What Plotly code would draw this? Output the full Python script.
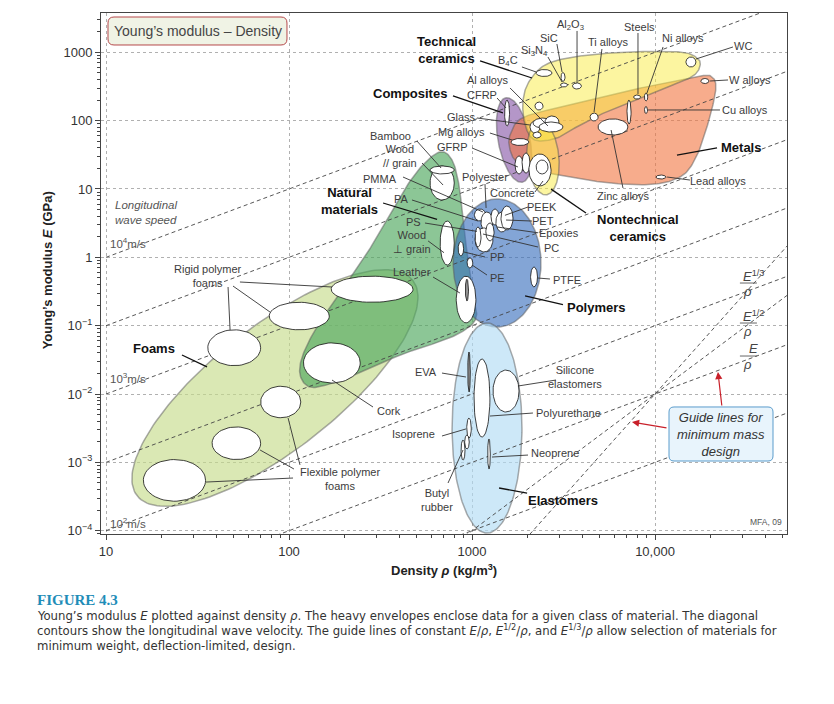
import numpy as np
import plotly.graph_objects as go

# ---------------- figure / axis extent ----------------
# (the page adds an 8 px body margin, so the figure is drawn 8 px smaller)
FIG_W, FIG_H = 826, 696
MARGIN = dict(l=93, r=47, t=5, b=170)
X_LOG_RANGE = [0.9727, 4.7213]     # log10 density (kg/m3)
Y_LOG_RANGE = [-4.048, 3.575]      # log10 modulus (GPa)

x_ticks = [10, 100, 1000, 10000]
x_tick_labels = ["10", "100", "1000", "10,000"]
y_ticks = [1e-4, 1e-3, 1e-2, 1e-1, 1, 10, 100, 1000]
y_tick_labels = ["10<sup>−4</sup>", "10<sup>−3</sup>", "10<sup>−2</sup>", "10<sup>−1</sup>",
                 "1", "10", "100", "1000"]

# ---------------- contour / guide data ----------------
wave_ratio = [1e-7, 1e-6, 1e-5, 1e-4, 1e-3, 1e-2, 1e-1]   # E/rho, GPa/(kg/m3)
guide_rho0 = 1e4
guide_E0 = 1e-2
guide_exponents = [2, 3]      # E^(1/2)/rho, E^(1/3)/rho  (E/rho = wave line 1e-6)

# ---------------- material bubbles (ranges) ----------------
bubble_names = [
    "Flexible foam A", "Flexible foam B", "Flexible foam C",
    "Rigid foam A", "Rigid foam B", "Rigid foam C", "Cork",
    "Wood // grain", "Bamboo", "Wood ⊥ grain", "Leather", "Leather (dense)",
    "PP", "PE", "PTFE", "PA", "PMMA", "Polyester", "PET", "PEEK", "PS", "PC", "Epoxies",
    "EVA", "Polyurethane", "Silicone elastomers", "Isoprene", "Butyl rubber A", "Butyl rubber B", "Neoprene",
    "CFRP", "Glass", "Glass B", "Al alloys A", "Al alloys B", "Al alloys", "Mg alloys",
    "GFRP A", "GFRP B", "Concrete", "Stone",
    "B4C", "SiC", "Si3N4", "Al2O3", "Other ceramic",
    "Ti alloys", "Steels", "Ni alloys", "Zinc alloys", "Cast irons", "WC", "W alloys",
    "Lead alloys", "Cu alloys",
]
bubble_rho_lo = [16, 38, 70, 36, 78, 170, 120,
                 590, 590, 670, 820, 920,
                 840, 940, 2090, 1030, 1120, 1270, 1350, 1440, 1040, 1040, 1190,
                 948, 1026, 1303, 936, 912, 871, 1218,
                 1507, 2075, 2155, 2155, 2506, 2323, 1633,
                 1718, 1877, 2046, 2241,
                 2241, 3064, 3045, 3541, 2208,
                 4416, 7640, 8750, 4887, 7030, 14760, 17810,
                 10120, 8760]
bubble_rho_hi = [35, 70, 116, 70, 166, 476, 245,
                 800, 800, 800, 1050, 957,
                 900, 1010, 2280, 1190, 1300, 1405, 1575, 1675, 1300, 1120, 1320,
                 979, 1253, 1807, 991, 966, 916, 1259,
                 1604, 2353, 2385, 2775, 2986, 3141, 2046,
                 1901, 2075, 2704, 2603,
                 2735, 3223, 3325, 3962, 2444,
                 4887, 8340, 9130, 7110, 7400, 16740, 19720,
                 11480, 9100]
bubble_E_lo = [2.7e-4, 1.1e-3, 4.5e-3, 0.026, 0.087, 0.22, 0.0145,
               6.9, 16.6, 0.77, 0.11, 0.23,
               1.05, 0.70, 0.37, 3.4, 2.35, 2.97, 2.35, 2.51, 1.20, 1.42, 1.74,
               0.0107, 2.35e-3, 5.46e-3, 2.27e-3, 1.57e-3, 1.08e-3, 8.0e-4,
               83.6, 65.9, 55.7, 78, 78, 68.2, 43.3,
               16.6, 17.1, 11.1, 16.6,
               443, 374, 311, 290, 143,
               98.8, 207, 194, 61.7, 89.3, 610, 349,
               14.0, 127]
bubble_E_hi = [1.1e-3, 3.3e-3, 0.013, 0.087, 0.22, 0.53, 0.056,
               21.7, 21.7, 3.4, 0.53, 0.48,
               1.7, 0.98, 0.72, 5.1, 4.6, 5.09, 4.6, 5.63, 2.69, 2.78, 3.18,
               0.0412, 0.0325, 0.0224, 4.45e-3, 2.51e-3, 2.12e-3, 2.2e-3,
               200, 98.8, 68.2, 109, 117, 95.5, 54.8,
               30.4, 33.6, 32.5, 26.5,
               560, 506, 356, 356, 187,
               129, 237, 253, 106, 200, 853, 414,
               16.0, 161]
gray_bubbles = {"EVA", "Leather (dense)"}

# ---------------- class envelopes ----------------
# ellipses: centre density, centre modulus, semi-axes (display decades), tilt (deg)
ellipse_envelopes = {
    "Foams": (83.8, 0.01225, 0.956, 0.339, 38),
    "Polymers": (1371, 0.826, 0.350, 0.240, 90),
    "Elastomers": (1208, 3.18e-3, 0.574, 0.191, 90),
    "Composites": (1698, 52.1, 0.235, 0.087, 101),
    "Nontechnical ceramics": (2443, 28.4, 0.202, 0.087, 95),
}
natural_rho = [668, 778, 849, 893, 951, 1012, 1052, 859, 589, 404, 244, 167, 130, 115, 119, 144, 195, 270, 394, 520]
natural_E = [34.8, 26.5, 11.4, 3.52, 0.914, 0.281, 0.129, 0.0782, 0.0521, 0.0372, 0.0203, 0.0140,
             0.01265, 0.0190, 0.0372, 0.102, 0.333, 1.20, 6.90, 20.3]
metals_rho = [1614, 1877, 3026, 5000, 9400, 17620, 20480, 21510, 20730, 19000, 16980, 14230,
              10000, 5680, 3435, 2355, 1782, 1614]
metals_E = [61.7, 109, 158, 222, 321, 450, 435, 321, 170, 73, 31.4, 16.0, 11.8, 12.2, 15.0, 17.7, 24.0, 37.2]
techcer_rho = [1901, 2075, 2570, 3890, 7290, 13710, 16980, 17620, 16140, 12080, 8280, 5680, 3890, 2910, 2208, 1950]
techcer_E = [200, 393, 675, 883, 1010, 1010, 826, 631, 450, 321, 214, 143, 86.3, 55.7, 52.1, 86.3]

env_fill = {
    "Foams": "rgba(198,220,140,0.65)",
    "Natural materials": "rgba(78,167,93,0.65)",
    "Polymers": "rgba(55,109,189,0.62)",
    "Elastomers": "rgba(178,220,244,0.65)",
    "Composites": "rgba(140,93,170,0.65)",
    "Metals": "rgba(241,117,63,0.6)",
    "Technical ceramics": "rgba(249,235,65,0.5)",
    "Nontechnical ceramics": "rgba(249,235,65,0.5)",
}
env_order = ["Foams", "Natural materials", "Polymers", "Elastomers", "Composites",
             "Metals", "Technical ceramics", "Nontechnical ceramics"]

# ---------------- labels (log10 density, log10 modulus) ----------------
labels = [
    ("Rigid polymer<br>foams", 1.557, -0.273, False),
    ("Flexible polymer<br>foams", 2.279, -3.244, False),
    ("Cork", 2.546, -2.249, False),
    ("Foams", 1.262, -1.341, True),
    ("Leather", 2.672, -0.215, False),
    ("Wood<br>⊥ grain", 2.672, 0.224, False),
    ("PS", 2.678, 0.517, False),
    ("PA", 2.617, 0.853, False),
    ("PMMA", 2.497, 1.146, False),
    ("Bamboo", 2.552, 1.775, False),
    ("Wood<br>// grain", 2.607, 1.483, False),
    ("Natural<br>materials", 2.333, 0.824, True),
    ("Polyester", 3.071, 1.175, False),
    ("Concrete", 3.224, 0.941, False),
    ("PEEK", 3.383, 0.736, False),
    ("PET", 3.388, 0.531, False),
    ("Epoxies", 3.475, 0.359, False),
    ("PC", 3.437, 0.137, False),
    ("PP", 3.137, 0.005, False),
    ("PE", 3.142, -0.303, False),
    ("PTFE", 3.519, -0.332, False),
    ("Polymers", 3.683, -0.727, True),
    ("EVA", 2.749, -1.678, False),
    ("Silicone<br>elastomers", 3.563, -1.751, False),
    ("Polyurethane", 3.525, -2.278, False),
    ("Isoprene", 2.678, -2.585, False),
    ("Neoprene", 3.454, -2.863, False),
    ("Butyl<br>rubber", 2.809, -3.551, False),
    ("Elastomers", 3.497, -3.551, True),
    ("Technical<br>ceramics", 2.863, 3.034, True),
    ("Composites", 2.661, 2.404, True),
    ("B<sub>4</sub>C", 3.197, 2.873, False),
    ("SiC", 3.421, 3.209, False),
    ("Si<sub>3</sub>N<sub>4</sub>", 3.344, 3.019, False),
    ("Al<sub>2</sub>O<sub>3</sub>", 3.536, 3.399, False),
    ("Ti alloys", 3.743, 3.151, False),
    ("Steels", 3.913, 3.370, False),
    ("Ni alloys", 4.153, 3.209, False),
    ("WC", 4.481, 3.092, False),
    ("W alloys", 4.519, 2.595, False),
    ("Cu alloys", 4.492, 2.156, False),
    ("Metals", 4.470, 1.614, True),
    ("Lead alloys", 4.344, 1.117, False),
    ("Zinc alloys", 3.825, 0.897, False),
    ("Nontechnical<br>ceramics", 3.907, 0.429, True),
    ("Al alloys", 3.087, 2.595, False),
    ("CFRP", 3.055, 2.375, False),
    ("Glass", 2.945, 2.053, False),
    ("Mg alloys", 2.945, 1.834, False),
    ("GFRP", 2.896, 1.614, False),
]
leaders_class = [
    (1.415, -1.429, 1.552, -1.604), (2.514, 0.795, 2.809, 0.555),
    (3.497, -0.692, 3.290, -0.565), (3.301, -3.449, 3.148, -3.375),
    (3.044, 2.873, 3.328, 2.624), (2.896, 2.361, 3.169, 2.112),
    (4.339, 1.600, 4.120, 1.497), (3.623, 0.649, 3.432, 0.998),
]
leaders_material = [
    (1.732, -0.361, 2.235, -0.434), (1.694, -0.420, 1.896, -0.800), (1.667, -0.434, 1.678, -1.063),
    (2.022, -3.229, 1.546, -3.288), (2.027, -3.097, 1.842, -2.819), (2.060, -3.037, 1.995, -2.351),
    (2.459, -2.190, 2.235, -1.795), (2.787, -0.288, 2.934, -0.522), (2.760, 0.240, 2.847, 0.068),
    (2.743, 0.502, 3.027, 0.380), (2.672, 0.839, 3.033, 0.531), (2.623, 1.175, 3.060, 0.663),
    (2.699, 1.702, 2.831, 1.307), (2.727, 1.380, 2.842, 1.058), (3.071, 1.073, 3.077, 0.722),
    (3.344, 0.956, 3.388, 1.117), (3.306, 0.736, 3.180, 0.615), (3.328, 0.531, 3.186, 0.546),
    (3.361, 0.359, 3.137, 0.444), (3.361, 0.151, 3.060, 0.341), (3.071, 0.005, 2.956, 0.078),
    (3.082, -0.259, 3.000, -0.112), (3.426, -0.317, 3.361, -0.303), (2.836, -1.693, 2.967, -1.751),
    (3.459, -1.795, 3.251, -1.883), (3.333, -2.278, 3.098, -2.322), (2.836, -2.614, 2.967, -2.511),
    (3.306, -2.893, 3.109, -2.922), (2.869, -3.302, 2.951, -2.819), (3.273, 2.785, 3.350, 2.712),
    (3.464, 3.121, 3.492, 2.712), (3.415, 2.931, 3.492, 2.565), (3.574, 3.312, 3.574, 2.551),
    (3.710, 3.048, 3.667, 2.126), (3.907, 3.282, 3.907, 2.390), (4.044, 3.078, 3.956, 2.404),
    (4.426, 3.078, 4.224, 2.902), (4.399, 2.595, 4.301, 2.580), (4.355, 2.156, 3.962, 2.156),
    (4.191, 1.131, 4.066, 1.175), (3.825, 1.014, 3.760, 1.863), (3.208, 2.478, 3.415, 1.922),
    (3.137, 2.331, 3.186, 2.185), (3.027, 2.039, 3.317, 1.936), (3.098, 1.819, 3.219, 1.717),
    (3.000, 1.600, 3.251, 1.322),
]
fractions = [  # numerator, x(log), numerator y, bar y, denominator y
    ("<i>E</i><sup>1/3</sup>", 4.508, -0.273, -0.376, -0.494),
    ("<i>E</i><sup>1/2</sup>", 4.508, -0.859, -0.961, -1.078),
    ("<i>E</i>", 4.508, -1.327, -1.444, -1.564),
]

# ---------------- geometry helpers ----------------
PW = FIG_W - MARGIN["l"] - MARGIN["r"]
PH = FIG_H - MARGIN["t"] - MARGIN["b"]
PPX = PW / (X_LOG_RANGE[1] - X_LOG_RANGE[0])
PPY = PH / (Y_LOG_RANGE[1] - Y_LOG_RANGE[0])
ASPECT = PPX / PPY


def ellipse_env(rc, Ec, a, b, ang, n=180):
    t = np.linspace(0, 2 * np.pi, n)
    th = np.radians(ang)
    du = a * np.cos(t) * np.cos(th) - b * np.sin(t) * np.sin(th)
    dv = a * np.cos(t) * np.sin(th) + b * np.sin(t) * np.cos(th)
    return 10 ** (np.log10(rc) + du), 10 ** (np.log10(Ec) + dv * ASPECT)


def smooth_env(rhos, Es, n=16):
    P = np.column_stack([np.log10(rhos) * PPX, np.log10(Es) * PPY])
    N = len(P)
    pts = []
    for i in range(N):
        p0, p1, p2, p3 = P[i - 1], P[i], P[(i + 1) % N], P[(i + 2) % N]
        for t in np.linspace(0, 1, n, endpoint=False):
            pts.append(0.5 * (2 * p1 + (p2 - p0) * t + (2 * p0 - 5 * p1 + 4 * p2 - p3) * t ** 2
                              + (3 * p1 - p0 - 3 * p2 + p3) * t ** 3))
    pts.append(pts[0])
    pts = np.array(pts)
    return 10 ** (pts[:, 0] / PPX), 10 ** (pts[:, 1] / PPY)


def bubble(rlo, rhi, elo, ehi, n=60):
    t = np.linspace(0, 2 * np.pi, n)
    cx, rx = (np.log10(rlo) + np.log10(rhi)) / 2, (np.log10(rhi) - np.log10(rlo)) / 2
    cy, ry = (np.log10(elo) + np.log10(ehi)) / 2, (np.log10(ehi) - np.log10(elo)) / 2
    return 10 ** (cx + rx * np.cos(t)), 10 ** (cy + ry * np.sin(t))


def rounded_box(x0, x1, y0, y1, r=5):
    """Rounded rectangle path in paper coordinates (r in pixels)."""
    rx, ry = r / PW, r / PH
    return (f"M{x0 + rx},{y0} L{x1 - rx},{y0} Q{x1},{y0} {x1},{y0 + ry} L{x1},{y1 - ry} "
            f"Q{x1},{y1} {x1 - rx},{y1} L{x0 + rx},{y1} Q{x0},{y1} {x0},{y1 - ry} "
            f"L{x0},{y0 + ry} Q{x0},{y0} {x0 + rx},{y0} Z")


fig = go.Figure()
ENV_LINE = "rgba(90,90,90,0.5)"

shapes_xy = {}
for name, p in ellipse_envelopes.items():
    shapes_xy[name] = ellipse_env(*p)
shapes_xy["Natural materials"] = smooth_env(natural_rho, natural_E)
shapes_xy["Metals"] = smooth_env(metals_rho, metals_E)
shapes_xy["Technical ceramics"] = smooth_env(techcer_rho, techcer_E)

for name in env_order:
    xs, ys = shapes_xy[name]
    fig.add_trace(go.Scatter(x=xs, y=ys, mode="lines", fill="toself", fillcolor=env_fill[name],
                             line=dict(color=ENV_LINE, width=1.5), hoverinfo="skip", name=name))

# wave speed contours and guide lines
DASH = dict(color="#444", width=0.9, dash="4px,3px")
rho_line = np.array([10, 10 ** 4.75])
for r in wave_ratio:
    fig.add_trace(go.Scatter(x=rho_line, y=r * rho_line, mode="lines", line=DASH, hoverinfo="skip"))
for n in guide_exponents:
    rr = np.array([10 ** 2.5, 10 ** 4.75])
    fig.add_trace(go.Scatter(x=rr, y=guide_E0 * (rr / guide_rho0) ** n, mode="lines", line=DASH,
                             hoverinfo="skip"))

# bubbles
for nm, a, b, c, d in zip(bubble_names, bubble_rho_lo, bubble_rho_hi, bubble_E_lo, bubble_E_hi):
    xs, ys = bubble(a, b, c, d)
    fig.add_trace(go.Scatter(x=xs, y=ys, mode="lines", fill="toself",
                             fillcolor="#9a9a9a" if nm in gray_bubbles else "white",
                             line=dict(color="#111", width=0.8), hoverinfo="skip", name=nm))


def seg_trace(segs, width, color):
    xs, ys = [], []
    for a, b, c, d in segs:
        xs += [10 ** a, 10 ** c, None]
        ys += [10 ** b, 10 ** d, None]
    return go.Scatter(x=xs, y=ys, mode="lines", line=dict(color=color, width=width), hoverinfo="skip")


fig.add_trace(seg_trace(leaders_material, 0.9, "#333"))
fig.add_trace(seg_trace(leaders_class, 1.3, "#111"))
fig.add_trace(seg_trace([(fx - 0.044, by, fx + 0.049, by) for _, fx, _, by, _ in fractions], 0.9, "#555"))

# ---------------- annotations ----------------
SANS = "Liberation Sans, Arial, Helvetica, sans-serif"
ann = []
for text, lx, ly, bold in labels:
    ann.append(dict(x=lx, y=ly, xref="x", yref="y", showarrow=False, xanchor="center", yanchor="middle",
                    text=f"<b>{text}</b>" if bold else text,
                    font=dict(family=SANS, size=13 if bold else 11, color="#111" if bold else "#3c3c3c")))
for num, fx, ny, by, dy in fractions:
    ann.append(dict(x=fx + 0.028, y=ny, xref="x", yref="y", showarrow=False, text=num,
                    xanchor="center", yanchor="middle", font=dict(family=SANS, size=13, color="#444")))
    ann.append(dict(x=fx, y=dy, xref="x", yref="y", showarrow=False, text="<i>ρ</i>",
                    xanchor="center", yanchor="middle", font=dict(family=SANS, size=13, color="#444")))

ann += [
    dict(x=1.5, y=3.312, xref="x", yref="y", showarrow=False, text="Young’s modulus – Density",
         xanchor="center", yanchor="middle", font=dict(family=SANS, size=14, color="#444")),
    dict(x=1.038, y=0.649, xref="x", yref="y", showarrow=False, xanchor="left", yanchor="middle",
         align="left", text="<i>Longitudinal<br>wave speed</i>",
         font=dict(family=SANS, size=11.5, color="#555")),
    dict(x=1.011, y=0.209, xref="x", yref="y", showarrow=False, xanchor="left", yanchor="middle",
         text="10<sup>4</sup>m/s", font=dict(family=SANS, size=11.5, color="#555")),
    dict(x=1.011, y=-1.766, xref="x", yref="y", showarrow=False, xanchor="left", yanchor="middle",
         text="10<sup>3</sup>m/s", font=dict(family=SANS, size=11.5, color="#555")),
    dict(x=1.011, y=-3.888, xref="x", yref="y", showarrow=False, xanchor="left", yanchor="middle",
         text="10<sup>2</sup>m/s", font=dict(family=SANS, size=11.5, color="#555")),
    dict(x=4.609, y=-3.873, xref="x", yref="y", showarrow=False, text="MFA, 09",
         xanchor="center", yanchor="middle", font=dict(family=SANS, size=8.5, color="#555")),
    dict(x=4.361, y=-2.585, xref="x", yref="y", showarrow=False,
         xanchor="center", yanchor="middle",
         text="<i>Guide lines for<br>minimum mass<br>design</i>",
         font=dict(family=SANS, size=13, color="#333")),
    dict(x=4.344, y=-1.678, ax=4.366, ay=-2.190, xref="x", yref="y", axref="x", ayref="y", text="",
         showarrow=True, arrowhead=2, arrowsize=1.2, arrowwidth=1.2, arrowcolor="#c8202a"),
    dict(x=3.874, y=-2.410, ax=4.071, ay=-2.498, xref="x", yref="y", axref="x", ayref="y", text="",
         showarrow=True, arrowhead=2, arrowsize=1.2, arrowwidth=1.2, arrowcolor="#c8202a"),
    # axis titles
    dict(x=-0.078, y=0.507, xref="paper", yref="paper", showarrow=False, textangle=-90,
         xanchor="center", yanchor="middle",
         text="<b>Young’s modulus <i>E</i> (GPa)</b>", font=dict(family=SANS, size=13, color="#222")),
    dict(x=0.5007, y=-0.069, xref="paper", yref="paper", showarrow=False,
         xanchor="center", yanchor="middle",
         text="<b>Density <i>ρ</i> (kg/m<sup>3</sup>)</b>", font=dict(family=SANS, size=13, color="#222")),
    # caption
    dict(x=-0.0962, y=-0.1267, xref="paper", yref="paper", showarrow=False, xanchor="left",
         yanchor="middle", text="<b>FIGURE 4.3</b>",
         font=dict(family="Liberation Serif, DejaVu Serif, serif", size=15, color="#1f8db8")),
]
CAP = "Liberation Sans Narrow, DejaVu Sans Condensed, Arial Narrow, sans-serif"
caption_lines = [
    "Young’s modulus <i>E</i> plotted against density <i>ρ</i>. The heavy envelopes enclose data for a given class of material. The diagonal",
    "contours show the longitudinal wave velocity. The guide lines of constant <i>E</i>/<i>ρ</i>, <i>E</i><sup>1/2</sup>/<i>ρ</i>, and <i>E</i><sup>1/3</sup>/<i>ρ</i> allow selection of materials for",
    "minimum weight, deflection-limited, design.",
]
for i, line in enumerate(caption_lines):
    ann.append(dict(x=-0.0962, y=-0.1555 - 0.0288 * i, xref="paper", yref="paper", showarrow=False,
                    xanchor="left", yanchor="middle", text=line,
                    font=dict(family=CAP, size=13, color="#333")))

# rounded boxes behind the chart title and the guide-line note (paper coordinates)
box_shapes = [
    dict(type="path", xref="paper", yref="paper", layer="above",
         path=rounded_box(0.0102, 0.2711, 0.9386, 0.9923, r=6),
         fillcolor="#f0f3e5", line=dict(color="#b5484a", width=1)),
    dict(type="path", xref="paper", yref="paper", layer="above",
         path=rounded_box(0.8280, 0.9796, 0.1401, 0.2438, r=5),
         fillcolor="#e8f4fc", line=dict(color="#5a9ccc", width=1)),
]

AX = dict(type="log", ticks="outside", ticklen=5, tickcolor="#444", showline=True, linecolor="#444",
          linewidth=1, mirror=True, showgrid=True, gridcolor="#b0b0b0", griddash="dot", gridwidth=1,
          zeroline=False, tickmode="array", automargin=False,
          tickfont=dict(family=SANS, size=13, color="#333"),
          minor=dict(ticks="outside", ticklen=3, tickcolor="#444", dtick="D1", showgrid=False))

fig.update_layout(
    width=FIG_W, height=FIG_H, margin=MARGIN, showlegend=False,
    plot_bgcolor="white", paper_bgcolor="white",
    xaxis=dict(AX, range=X_LOG_RANGE, tickvals=x_ticks, ticktext=x_tick_labels),
    yaxis=dict(AX, range=Y_LOG_RANGE, tickvals=y_ticks, ticktext=y_tick_labels),
    annotations=ann, shapes=box_shapes,
)
fig.write_html("out.html")
